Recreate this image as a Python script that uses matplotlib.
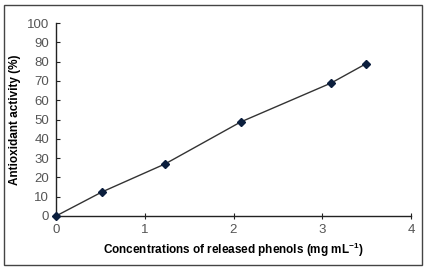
import matplotlib.pyplot as plt
from matplotlib.patches import Rectangle

concentracion = [0, 0.52, 1.23, 2.08, 3.10, 3.49]
actividad = [0, 12.5, 27, 48.7, 68.9, 78.8]
xticks = [0, 1, 2, 3, 4]
yticks = list(range(0, 101, 10))

fig = plt.figure(figsize=(4.27, 2.70), dpi=100)
fig.patches.append(Rectangle((4 / 427, 5 / 270), 418 / 427, 260 / 270,
                             transform=fig.transFigure, fill=False,
                             edgecolor='#444444', linewidth=1.0))
ax = fig.add_axes([56 / 427, 54 / 270, 355 / 427, 193 / 270])

ax.plot(concentracion, actividad, color='#333333', linewidth=1.0,
        marker='D', markersize=4.5, markerfacecolor='#0b1e3d',
        markeredgecolor='#0b1e3d', clip_on=False, zorder=3)

ax.set_xlim(0, 4)
ax.set_ylim(0, 100)
ax.set_xticks(xticks)
ax.set_yticks(yticks)
for s in ['top', 'right']:
    ax.spines[s].set_visible(False)
for s in ['left', 'bottom']:
    ax.spines[s].set_color('#222222')
    ax.spines[s].set_linewidth(1.0)

fuente = ['Liberation Sans', 'DejaVu Sans']
ax.tick_params(axis='y', direction='in', length=3, pad=5, labelsize=9.5,
               labelcolor='#555555', color='#222222')
ax.tick_params(axis='x', direction='inout', length=4, pad=4, labelsize=9.5,
               labelcolor='#555555', color='#222222')
for lbl in ax.get_xticklabels() + ax.get_yticklabels():
    lbl.set_family(fuente)

plt.rcParams['mathtext.fontset'] = 'custom'
plt.rcParams['mathtext.rm'] = 'Liberation Sans:bold'
ax.set_xlabel('Concentrations of released phenols (mg mL$^{\\mathregular{-1}}$)',
              family=fuente, fontweight='bold', fontsize=8.5, labelpad=3)
ax.set_ylabel('Antioxidant activity (%)', family=fuente, fontweight='bold',
              fontsize=8.5, labelpad=4)

fig.savefig('out.png', dpi=100)
